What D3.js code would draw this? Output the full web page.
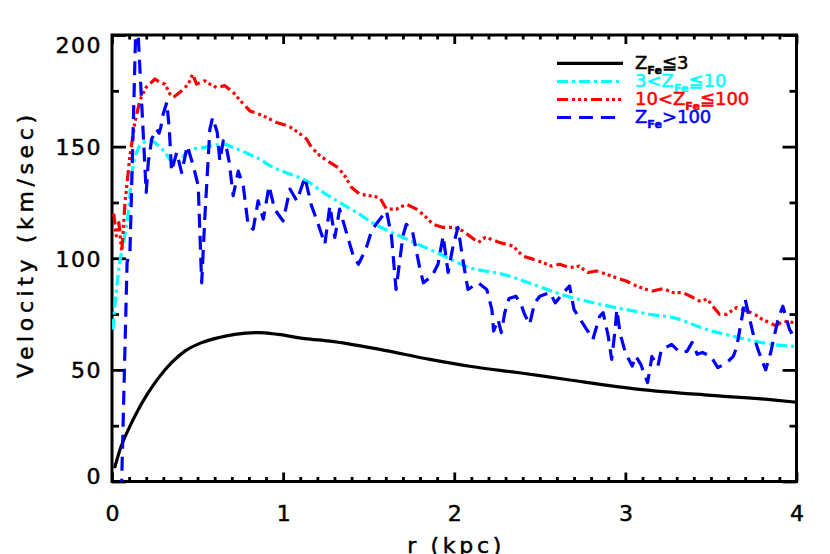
<!DOCTYPE html>
<html>
<head>
<meta charset="utf-8">
<script src="https://cdn.jsdelivr.net/npm/d3@7"></script>
<style>
  html, body { margin: 0; padding: 0; background: #fff; }
  svg { display: block; }
  text { font-family: "DejaVu Sans", sans-serif; }
</style>
</head>
<body>
<svg id="chart" width="830" height="554"></svg>
<script>
// ---------------- data ----------------
const xTicks = [0, 1, 2, 3, 4];
const yTicks = [0, 50, 100, 150, 200];
const xLabel = "r (kpc)";
const yLabel = "Velocity (km/sec)";

const rBlack = [0.015, 0.047, 0.105, 0.154, 0.212, 0.28, 0.348, 0.426, 0.524, 0.62, 0.718, 0.854, 0.971, 1.127, 1.273, 1.565, 1.857, 2.1, 2.38, 2.655, 3.083, 3.5, 3.86, 4.0];
const vBlack = [6, 14.3, 24.8, 32.3, 39.8, 47.2, 53.2, 58.4, 62.2, 64.4, 65.9, 66.7, 65.9, 64, 62.9, 59.2, 54.7, 51.5, 48.7, 45.7, 41.3, 38.6, 36.6, 35.5];

const rCyan = [0.005, 0.025, 0.045, 0.07, 0.095, 0.115, 0.144, 0.183, 0.232, 0.27, 0.31, 0.348, 0.387, 0.426, 0.475, 0.533, 0.59, 0.65, 0.708, 0.757, 0.80, 0.845, 0.942, 1.04, 1.137, 1.234, 1.33, 1.43, 1.52, 1.70, 1.896, 2.09, 2.3, 2.46, 2.655, 2.85, 3.044, 3.14, 3.28, 3.47, 3.667, 3.86, 4.0];
const vCyan = [68, 85, 98, 108, 120.5, 137, 147.4, 151.9, 152.6, 150.4, 147.4, 143.6, 142.9, 146.6, 148.9, 149.6, 150.4, 151.1, 149.6, 148.1, 146.6, 145.1, 140.7, 137.7, 134.7, 129.5, 125, 120.5, 116, 109.3, 102.6, 95.8, 92.5, 88.3, 83.1, 79.4, 76.4, 74.9, 73.4, 68.2, 64.4, 61.4, 60.5];

const rRed = [0.01, 0.025, 0.04, 0.057, 0.076, 0.105, 0.134, 0.164, 0.2, 0.251, 0.28, 0.31, 0.339, 0.358, 0.407, 0.446, 0.471, 0.494, 0.543, 0.572, 0.611, 0.66, 0.708, 0.757, 0.806, 0.884, 0.962, 1.03, 1.088, 1.137, 1.166, 1.215, 1.273, 1.32, 1.36, 1.40, 1.448, 1.507, 1.565, 1.604, 1.663, 1.72, 1.78, 1.838, 1.876, 1.935, 2.0, 2.05, 2.09, 2.14, 2.18, 2.217, 2.266, 2.343, 2.40, 2.46, 2.52, 2.567, 2.616, 2.674, 2.73, 2.78, 2.83, 2.89, 2.947, 3.005, 3.064, 3.12, 3.16, 3.22, 3.28, 3.336, 3.395, 3.43, 3.48, 3.51, 3.55, 3.59, 3.65, 3.71, 3.755, 3.80, 3.84, 3.88, 3.92, 4.0];
const vRed = [120, 110, 116, 103, 125, 146, 161, 171, 176.6, 180.3, 178.8, 178, 173.5, 172, 175, 178, 182.5, 178, 179.5, 178, 176.5, 177.3, 174.3, 170, 166, 163.8, 160.8, 159.3, 156.4, 153.4, 149.6, 145.9, 142.9, 140.7, 136.9, 131.7, 128.7, 128, 127.2, 122, 122, 124.2, 122, 118.2, 115.2, 113.8, 113.8, 112.2, 110, 107, 109.3, 108.5, 107, 105.5, 101, 99.6, 98, 96.5, 97.3, 95.8, 96.5, 93.6, 94.3, 92.8, 91.3, 89.8, 87.6, 86.1, 85.3, 86.4, 84.6, 84.6, 82.4, 80.9, 81.6, 78.6, 74.9, 74.9, 77.9, 76.4, 74.9, 72.6, 71.2, 69.7, 71.9, 71];

const rBlue = [0.055, 0.088, 0.105, 0.143, 0.2, 0.212, 0.232, 0.26, 0.275, 0.285, 0.296, 0.32, 0.335, 0.348, 0.378, 0.407, 0.44, 0.475, 0.504, 0.524, 0.543, 0.572, 0.588, 0.615, 0.63, 0.65, 0.67, 0.685, 0.708, 0.738, 0.767, 0.796, 0.825, 0.854, 0.884, 0.918, 0.95, 1.0, 1.04, 1.08, 1.127, 1.166, 1.205, 1.244, 1.273, 1.302, 1.33, 1.37, 1.41, 1.44, 1.483, 1.516, 1.545, 1.604, 1.633, 1.66, 1.70, 1.72, 1.756, 1.80, 1.82, 1.87, 1.905, 1.935, 1.964, 1.993, 2.022, 2.05, 2.08, 2.14, 2.19, 2.22, 2.23, 2.256, 2.275, 2.295, 2.32, 2.36, 2.39, 2.41, 2.44, 2.47, 2.50, 2.56, 2.59, 2.63, 2.674, 2.70, 2.73, 2.78, 2.81, 2.85, 2.87, 2.90, 2.92, 2.94, 2.95, 2.97, 3.00, 3.04, 3.06, 3.09, 3.13, 3.155, 3.19, 3.21, 3.27, 3.32, 3.36, 3.39, 3.42, 3.45, 3.50, 3.54, 3.59, 3.63, 3.65, 3.70, 3.75, 3.78, 3.82, 3.85, 3.89, 3.92, 3.96, 4.0];
const vBlue = [-5, 98, 103, 215, 129.5, 143, 153.4, 157.8, 156, 158.5, 163.8, 169.8, 157.8, 139, 147.4, 138.4, 150.4, 141.4, 132.4, 89, 119, 157.8, 163, 156.4, 143.6, 152.6, 149, 143, 128, 139, 132.4, 114.5, 113, 125.7, 117.5, 132.4, 122, 116.7, 131, 125.7, 136.2, 123.5, 115.2, 106.3, 123.5, 109.3, 122, 111.5, 101, 97.3, 104, 112, 115.5, 121.2, 110, 86, 110, 115.2, 112, 95, 89, 92, 97.3, 110, 93.6, 105.5, 113.8, 99.5, 86, 89, 86, 77, 67.4, 72.6, 66.7, 75.6, 82, 83, 79.4, 75, 70.4, 80, 83, 84.6, 80, 83.9, 87.6, 77, 73.4, 67.4, 63.7, 74, 75.6, 65, 54.7, 68, 77, 66, 57.7, 51.7, 56.2, 52.5, 44.3, 56, 51.6, 59, 61.4, 57.8, 58.3, 62.3, 57, 57.8, 56, 51, 53, 56, 60, 81.6, 65, 58, 50, 58, 72, 78.5, 68, 63];

const seriesNames = ["black", "cyan", "red", "blue"];
const seriesColors = ["#000000", "#00ffff", "#ff0000", "#0000ff"];
const seriesDash = [null, "11,4,3,4", "11,4,3,3,3,3,3,4", "14,8"];
const legendPre = ["", "3<", "10<", ""];
const legendPost = ["\u22663", "\u226610", "\u2266100", ">100"];

// ---------------- layout ----------------
const svg = d3.select("#chart");
const pL = 112, pR = 796.5, pT = 35, pB = 481.5;

const x = d3.scaleLinear().domain([0, 4]).range([pL, pR]);
const y = d3.scaleLinear().domain([0, 200]).range([pB, pT]);

svg.append("rect").attr("width", 830).attr("height", 554).attr("fill", "#fff");

const xMinor = d3.range(0, 4.0001, 0.1).map(v => +v.toFixed(1)).filter(v => !xTicks.includes(v));
const yMinor = d3.range(0, 200.001, 25).filter(v => !yTicks.includes(v));

const tickStroke = 2.8;
function styleAxis(g) {
  g.select(".domain").remove();
  g.selectAll(".tick line").attr("stroke", "#000").attr("stroke-width", tickStroke);
}
function thicken(sel, color) {
  sel.attr("stroke", color).attr("stroke-width", 0.5).attr("paint-order", "stroke");
}

// bottom axis major (with labels)
const gBottom = svg.append("g").attr("transform", `translate(0,${pB})`)
  .call(d3.axisBottom(x).tickValues(xTicks).tickSize(-9).tickFormat(d3.format("d")))
  .call(styleAxis);
gBottom.selectAll(".tick text")
  .attr("y", 39.5).attr("dy", 0)
  .attr("font-size", 22).attr("fill", "#000")
  .attr("font-family", "DejaVu Sans, sans-serif")
  .call(thicken, "#000");
svg.append("g").attr("transform", `translate(0,${pB})`)
  .call(d3.axisBottom(x).tickValues(xMinor).tickSize(-4.5).tickFormat(""))
  .call(styleAxis);
// top axis
svg.append("g").attr("transform", `translate(0,${pT})`)
  .call(d3.axisTop(x).tickValues(xTicks).tickSize(-9).tickFormat(""))
  .call(styleAxis);
svg.append("g").attr("transform", `translate(0,${pT})`)
  .call(d3.axisTop(x).tickValues(xMinor).tickSize(-4.5).tickFormat(""))
  .call(styleAxis);

// left axis
const gLeft = svg.append("g").attr("transform", `translate(${pL},0)`)
  .call(d3.axisLeft(y).tickValues(yTicks).tickSize(-14).tickFormat(d3.format("d")))
  .call(styleAxis);
gLeft.selectAll(".tick text")
  .attr("x", -10).attr("dy", "0.36em")
  .attr("y", d => { const py = y(d); return Math.min(Math.max(py, pT + 10), pB - 6) - py; })
  .attr("font-size", 22).attr("fill", "#000")
  .attr("font-family", "DejaVu Sans, sans-serif")
  .attr("letter-spacing", 1.5)
  .call(thicken, "#000");
svg.append("g").attr("transform", `translate(${pL},0)`)
  .call(d3.axisLeft(y).tickValues(yMinor).tickSize(-7).tickFormat(""))
  .call(styleAxis);
// right axis
svg.append("g").attr("transform", `translate(${pR},0)`)
  .call(d3.axisRight(y).tickValues(yTicks).tickSize(-14).tickFormat(""))
  .call(styleAxis);
svg.append("g").attr("transform", `translate(${pR},0)`)
  .call(d3.axisRight(y).tickValues(yMinor).tickSize(-7).tickFormat(""))
  .call(styleAxis);

// frame
svg.append("rect")
  .attr("x", pL).attr("y", pT)
  .attr("width", pR - pL).attr("height", pB - pT)
  .attr("fill", "none").attr("stroke", "#000").attr("stroke-width", 3);

// axis titles
svg.append("text")
  .attr("x", (pL + pR) / 2).attr("y", 553)
  .attr("text-anchor", "middle").attr("font-size", 22)
  .attr("textLength", 94).attr("lengthAdjust", "spacing")
  .text(xLabel)
  .call(thicken, "#000");
svg.append("text")
  .attr("transform", `translate(33,${(115 + 378) / 2}) rotate(-90)`)
  .attr("text-anchor", "middle").attr("font-size", 22)
  .attr("textLength", 263).attr("lengthAdjust", "spacing")
  .text(yLabel)
  .call(thicken, "#000");

// ---------------- lines ----------------
svg.append("clipPath").attr("id", "plotclip")
  .append("rect").attr("x", pL).attr("y", pT)
  .attr("width", pR - pL).attr("height", pB - pT);

const series = [
  { r: rBlack, v: vBlack, curve: d3.curveMonotoneX },
  { r: rCyan, v: vCyan, curve: d3.curveMonotoneX },
  { r: rRed, v: vRed, curve: d3.curveLinear },
  { r: rBlue, v: vBlue, curve: d3.curveLinear }
];

const gLines = svg.append("g").attr("clip-path", "url(#plotclip)");
series.forEach((s, i) => {
  const pts = s.r.map((r, k) => [r, s.v[k]]);
  const line = d3.line().x(d => x(d[0])).y(d => y(d[1])).curve(s.curve);
  gLines.append("path")
    .attr("d", line(pts))
    .attr("fill", "none")
    .attr("stroke", seriesColors[i])
    .attr("stroke-width", 3.2)
    .attr("stroke-linejoin", "round")
    .attr("stroke-dasharray", seriesDash[i]);
});

// ---------------- legend ----------------
const legY = [63.3, 81.5, 99.5, 117.5];
const legG = svg.append("g");
seriesNames.forEach((n, i) => {
  legG.append("line")
    .attr("x1", 557).attr("x2", 623)
    .attr("y1", legY[i]).attr("y2", legY[i])
    .attr("stroke", seriesColors[i]).attr("stroke-width", 3.2)
    .attr("stroke-dasharray", seriesDash[i]);
  const t = legG.append("text")
    .attr("x", 635).attr("y", legY[i] + 5.5)
    .attr("font-size", 18).attr("fill", seriesColors[i])
    .call(thicken, seriesColors[i]);
  if (legendPre[i]) t.append("tspan").text(legendPre[i]);
  t.append("tspan").text("Z");
  t.append("tspan").attr("dy", 5).attr("font-size", 11).attr("font-weight", "bold").text("Fe");
  t.append("tspan").attr("dy", -5).text(legendPost[i]);
});
</script>
</body>
</html>
